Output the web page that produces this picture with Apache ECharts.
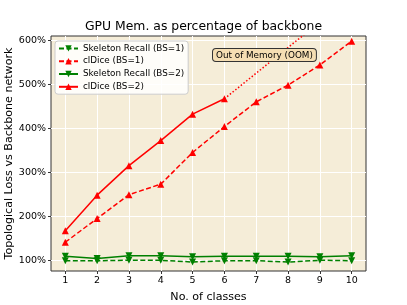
<!DOCTYPE html>
<html><head><meta charset="utf-8">
<script src="https://cdn.jsdelivr.net/npm/echarts@6/dist/echarts.min.js"></script>
<style>html,body{margin:0;padding:0;background:#fff}#c{width:407px;height:305px}</style>
</head><body><div id="c"></div>
<script>
var classes = [1,2,3,4,5,6,7,8,9,10];
var skelBS1 = [100,100,101,101,97,100,100,97,101,100];
var cldiceBS1 = [142,196,250,274,346,405,461,499,545,599];
var skelBS2 = [110,105,111,111,109,110,110,110,109,111];
var cldiceBS2 = [168,249,316,373,433,468];
var oomX = [6,10];
var oomY = [468,701];
var yTicks = [100,200,300,400,500,600];

function pairs(xs, ys){ return ys.map(function(v,i){ return [xs[i], v]; }); }
var font = 'DejaVu Sans';
var chart = echarts.init(document.getElementById('c'), null, {renderer:'canvas'});
var RED = '#ff0000', GREEN = '#008000';
chart.setOption({
  animation:false,
  backgroundColor:'#ffffff',
  title:{text:'GPU Mem. as percentage of backbone', left:'center', top:16,
    textStyle:{fontFamily:font, fontSize:12.4, fontWeight:'normal', color:'#000'}},
  grid:{left:51, right:41, top:36, bottom:34, show:true, backgroundColor:'#f5edd8', borderColor:'#333', borderWidth:1,
    outerBoundsMode:'none', containLabel:false},
  legend:{orient:'vertical', left:55, top:41, itemWidth:19, itemHeight:8, itemGap:2, itemSymbolGap:5,
    backgroundColor:'rgba(255,255,255,0.85)', borderColor:'#ccc', borderWidth:1, borderRadius:3, padding:[2,4,2,3],
    textStyle:{fontFamily:font, fontSize:8.8, color:'#000', lineHeight:10.8},
    data:['Skeleton Recall (BS=1)','clDice (BS=1)','Skeleton Recall (BS=2)','clDice (BS=2)']},
  xAxis:{type:'value', min:0.55, max:10.45, interval:1,
    name:'No. of classes', nameLocation:'middle', nameGap:21, nameMoveOverlap:false,
    nameTextStyle:{fontFamily:font, fontSize:11.1, color:'#000'},
    axisLine:{show:false}, axisTick:{show:true, customValues:classes, length:3, lineStyle:{color:'#333'}},
    axisLabel:{customValues:classes, fontFamily:font, fontSize:9.5, color:'#000', margin:5},
    splitLine:{show:true, lineStyle:{color:'#ffffff', width:1}}},
  yAxis:{type:'value', min:76.6, max:610.7,
    name:'Topological Loss vs Backbone network', nameLocation:'middle', nameGap:36, nameMoveOverlap:false,
    nameTextStyle:{fontFamily:font, fontSize:11.1, color:'#000'},
    axisLine:{show:false}, axisTick:{show:true, customValues:yTicks, length:3, lineStyle:{color:'#333'}},
    axisLabel:{customValues:yTicks, formatter:'{value}%', fontFamily:font, fontSize:9.5, color:'#000', margin:5},
    splitLine:{show:true, lineStyle:{color:'#ffffff', width:1}}},
  graphic:[{type:'text', left:212, top:48, z:100,
    style:{text:'Out of Memory (OOM)', fontFamily:font, fontSize:8.8, fill:'#000',
      backgroundColor:'#f5deb3', borderColor:'#333', borderWidth:1, borderRadius:3, padding:[2,3,1,3]}}],
  series:[
    {name:'Skeleton Recall (BS=1)', type:'line', data:pairs(classes, skelBS1), symbol:'triangle', symbolRotate:180, symbolSize:7,
      itemStyle:{color:GREEN}, lineStyle:{color:GREEN, width:1.5, type:[5,2.5]}, z:3},
    {name:'clDice (BS=1)', type:'line', data:pairs(classes, cldiceBS1), symbol:'triangle', symbolSize:7,
      itemStyle:{color:RED}, lineStyle:{color:RED, width:1.5, type:[5,2.5]}, z:3},
    {name:'Skeleton Recall (BS=2)', type:'line', data:pairs(classes, skelBS2), symbol:'triangle', symbolRotate:180, symbolSize:7,
      itemStyle:{color:GREEN}, lineStyle:{color:GREEN, width:1.5}, z:3},
    {name:'clDice (BS=2)', type:'line', data:pairs(classes, cldiceBS2), symbol:'triangle', symbolSize:7,
      itemStyle:{color:RED}, lineStyle:{color:RED, width:1.5}, z:3},
    {name:'OOM', type:'line', data:pairs(oomX, oomY), symbol:'none', clip:true,
      lineStyle:{color:RED, width:1.5, type:[1.5,2]}, z:2}
  ]
});
</script></body></html>
